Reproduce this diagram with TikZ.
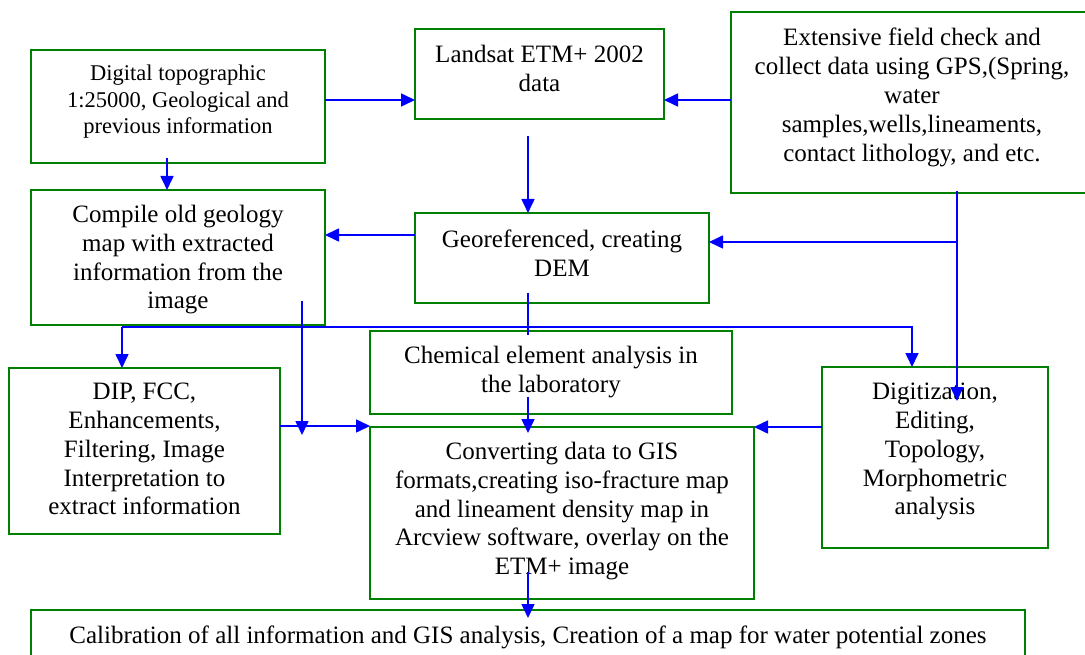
\documentclass[tikz,border=0pt]{standalone}
\usepackage{fontspec}
\setmainfont{Liberation Serif}
\usetikzlibrary{arrows.meta,calc}
\definecolor{boxgreen}{RGB}{0,128,0}
\definecolor{arrblue}{RGB}{0,0,255}
\tikzset{
  box/.style={draw=boxgreen, line width=2pt, rectangle, inner sep=0pt, outer sep=0pt},
  txt/.style={align=center, inner sep=0pt, anchor=north, font=\fontsize{25}{28.8}\selectfont},
  smalltxt/.style={align=center, inner sep=0pt, anchor=north, font=\fontsize{22.5}{26.7}\selectfont},
  conn/.style={draw=arrblue, line width=1.6pt},
  arr/.style={conn, -{Triangle[length=14pt,width=13pt]}}
}
\begin{document}
\begin{tikzpicture}[x=1pt,y=-1pt]
\useasboundingbox (0,0) rectangle (1085,655);
\clip (0,0) rectangle (1085,655);
% boxes
\node[box, minimum width=294pt, minimum height=113pt] (A) at (178,106.5) {};
\node[box, minimum width=249pt, minimum height=90pt] (B) at (539.5,74) {};
\node[box, minimum width=362pt, minimum height=181pt] (C) at (912,102.5) {};
\node[box, minimum width=294pt, minimum height=135pt] (D) at (178,257.5) {};
\node[box, minimum width=294pt, minimum height=90pt] (E) at (562,258) {};
\node[box, minimum width=362pt, minimum height=83pt] (F) at (551,372.5) {};
\node[box, minimum width=384pt, minimum height=172pt] (G) at (562,513) {};
\node[box, minimum width=271pt, minimum height=166pt] (H) at (144.5,451) {};
\node[box, minimum width=226pt, minimum height=181pt] (I) at (935,457.5) {};
\node[box, minimum width=994pt, minimum height=52pt] (J) at (528,636) {};
% texts
\node[smalltxt] (At) at ($(A.north)+(0,14.6)$) {Digital topographic\\1:25000, Geological and\\previous information};
\node[txt] (Bt) at ($(B.north)+(0,16)$) {Landsat ETM+ 2002\\data};
\node[txt] (Ct) at ($(C.north)+(0,16)$) {Extensive field check and\\collect data using GPS,(Spring,\\water\\samples,wells,lineaments,\\contact lithology, and etc.};
\node[txt] (Dt) at ($(D.north)+(0,15)$) {Compile old geology\\map with extracted\\information from the\\image};
\node[txt] (Et) at ($(E.north)+(0,17)$) {Georeferenced, creating\\DEM};
\node[txt] (Ft) at ($(F.north)+(0,15)$) {Chemical element analysis in\\the laboratory};
\node[txt] (Gt) at ($(G.north)+(0,15)$) {Converting data to GIS\\formats,creating iso-fracture map\\and lineament density map in\\Arcview software, overlay on the\\ETM+ image};
\node[txt] (Ht) at ($(H.north)+(0,15)$) {DIP, FCC,\\Enhancements,\\Filtering, Image\\Interpretation to\\extract information};
\node[txt] (It) at ($(I.north)+(0,16)$) {Digitization,\\Editing,\\Topology,\\Morphometric\\analysis};
\node[txt] (Jt) at ($(J.north)+(0,16)$) {Calibration of all information and GIS analysis, Creation of a map for water potential zones};
% connectors
\draw[arr] (A.east |- 0,100) -- (B.west |- 0,100);
\draw[arr] (C.west |- 0,100) -- (B.east |- 0,100);
\draw[arr] ($(A.south -| 167,0)+(0,-5)$) -- (D.north -| 167,0);
\draw[arr] ($(B.south -| 528,0)+(0,17)$) -- (E.north -| 528,0);
\draw[arr] (E.west |- 0,235) -- (D.east |- 0,235);
\draw[arr] ($(C.south -| 957,0)+(0,-2)$) -- ($(I.north -| 957,0)+(0,34)$);
\draw[arr] (957,242) -- (E.east |- 0,242);
\draw[conn] ($(E.south -| 528,0)+(0,-10)$) -- ($(F.north -| 528,0)+(0,4)$);
\draw[arr] ($(D.south -| 122,0)+(0,2)$) -- (H.north -| 122,0);
\draw[arr] ($(D.south -| 122,0)+(0,2)$) -- (912,327) -- (I.north -| 912,0);
\draw[arr] ($(D.south -| 302,0)+(0,-24)$) -- ($(H.east -| 302,0)+(0,-16)$);
\draw[arr] (H.east |- 0,426) -- (G.west |- 0,426);
\draw[arr] ($(F.south -| 528,0)+(0,-17)$) -- ($(G.north -| 528,0)+(0,6)$);
\draw[arr] (I.west |- 0,427) -- (G.east |- 0,427);
\draw[arr] ($(G.south -| 528,0)+(0,-27)$) -- ($(J.north -| 528,0)+(0,8)$);
\end{tikzpicture}
\end{document}
